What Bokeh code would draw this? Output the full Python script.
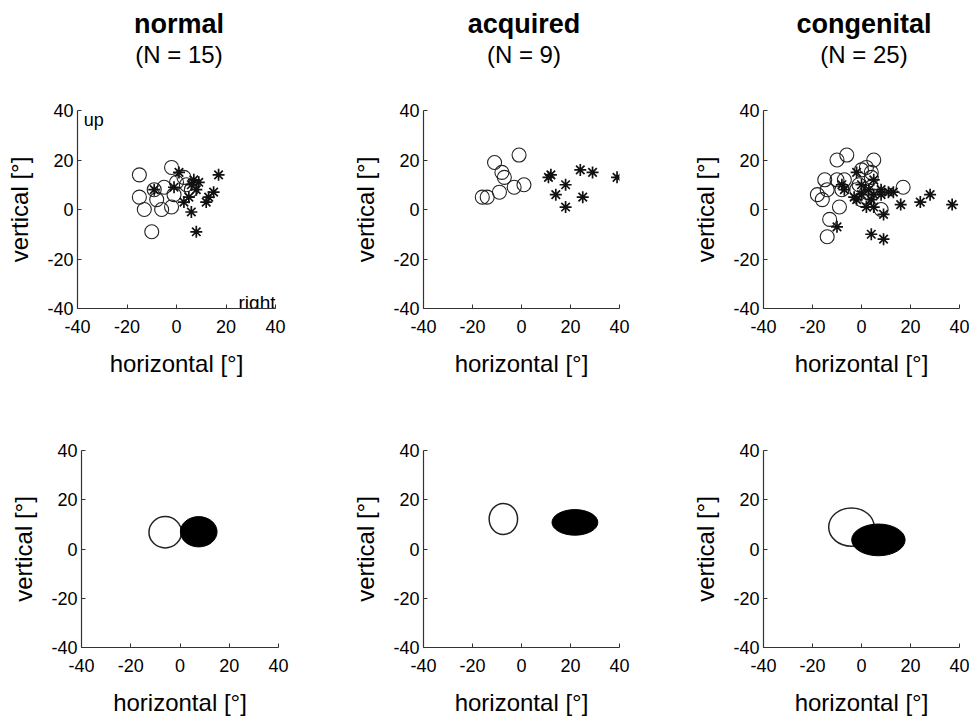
from bokeh.plotting import figure
from bokeh.layouts import column, row
from bokeh.models import Range1d, FixedTicker
from bokeh.embed import file_html
from bokeh.resources import INLINE
from bokeh.core.properties import value

FONT = "Liberation Sans"

# ---------------- data ----------------
panel_names = ["normal", "acquired", "congenital"]
panel_counts = ["(N = 15)", "(N = 9)", "(N = 25)"]
tick_values = [-40, -20, 0, 20, 40]
tick_labels = ["-40", "-20", "0", "20", "40"]

normal_circ_x = [-15, -2, -15, -13, -10, -9, -8, -6, -5, -1, -2, 0, 4, 6, 3]
normal_circ_y = [14, 17, 5, 0, -9, 8, 4, 0, 9, 6, 1, 11, 10, 8, 13]
normal_star_x = [1, 17, -9, -1, 7, 8, 5, 3, 6, 8, 15, 13, 12, 9, 6]
normal_star_y = [15, 14, 8, 9, 12, 8, 5, 3, -1, -9, 7, 5, 3, 11, 10]

acquired_circ_x = [-11, -1, -8, -7, -3, 1, -9, -14, -16]
acquired_circ_y = [19, 22, 15, 13, 9, 10, 7, 5, 5]
acquired_star_x = [12, 11, 24, 29, 39, 18, 14, 25, 18]
acquired_star_y = [14, 13, 16, 15, 13, 10, 6, 5, 1]

congenital_circ_x = [-18, -16, -15, -14, -13, -14, -10, -6, -10, -8, -7, -9, -2,
                     0, 2, 5, 4, 4, 17, 8, 0, 2, 4, -1, 2]
congenital_circ_y = [6, 4, 12, 8, -4, -11, 20, 22, 12, 8, 12, 1, 8,
                     16, 17, 20, 15, 13, 9, 0, 4, 7, 9, 10, 5]
congenital_star_x = [-10, 4, 9, 16, 24, 28, 37, 13, 11, 8, 9, 2, 5, -2, -3,
                     -2, 5, -8, -7, 0, 3, 5, 4, 8, 0]
congenital_star_y = [-7, -10, -12, 2, 3, 6, 2, 7, 7, 6, -2, 1, 1, 4, 5,
                     15, 12, 10, 8, 10, 8, 6, 4, 8, 6]

# ellipse summaries: centre x, centre y, width, height
open_cx = [-6.0, -7.4, -4.1]
open_cy = [6.8, 12.2, 8.9]
open_w = [13.2, 11.6, 18.6]
open_h = [12.7, 12.6, 15.6]
fill_cx = [7.6, 21.8, 6.9]
fill_cy = [7.0, 10.8, 3.7]
fill_w = [14.9, 18.7, 21.8]
fill_h = [12.3, 10.4, 12.9]

circ_x = [normal_circ_x, acquired_circ_x, congenital_circ_x]
circ_y = [normal_circ_y, acquired_circ_y, congenital_circ_y]
star_x = [normal_star_x, acquired_star_x, congenital_star_x]
star_y = [normal_star_y, acquired_star_y, congenital_star_y]

AX = "#333333"
TITLE_H = 90


def make_fig(fw, fh, left, right, top, bottom):
    p = figure(output_backend="svg", toolbar_location=None, title=None,
               frame_width=fw, frame_height=fh,
               x_range=Range1d(-40, 40), y_range=Range1d(-40, 40),
               min_border_left=left, min_border_right=right,
               min_border_top=top, min_border_bottom=bottom,
               background_fill_color="white", border_fill_color="white")
    p.outline_line_color = None
    p.xgrid.visible = False
    p.ygrid.visible = False
    p.xaxis.axis_label = "horizontal [°]"
    p.yaxis.axis_label = "vertical [°]"
    for ax in (p.xaxis[0], p.yaxis[0]):
        ax.ticker = FixedTicker(ticks=tick_values)
        ax.major_label_overrides = {v: s for v, s in zip(tick_values, tick_labels)}
        ax.major_tick_in = 4
        ax.major_tick_out = 0
        ax.minor_tick_line_color = None
        ax.axis_line_color = AX
        ax.major_tick_line_color = AX
        ax.axis_line_width = 1.2
        ax.major_label_text_font = FONT
        ax.major_label_text_font_size = "18px"
        ax.major_label_text_color = "black"
        ax.axis_label_text_font = FONT
        ax.axis_label_text_font_size = "24px"
        ax.axis_label_text_font_style = "normal"
        ax.axis_label_text_color = "black"
    p.xaxis[0].major_label_standoff = 11
    p.xaxis[0].axis_label_standoff = 14
    p.yaxis[0].major_label_standoff = 4
    p.yaxis[0].axis_label_standoff = 11
    return p


def make_title_fig(fw, left, right, name, count):
    t = figure(output_backend="svg", toolbar_location=None, title=None,
               x_axis_type=None, y_axis_type=None,
               frame_width=fw, frame_height=TITLE_H,
               x_range=Range1d(-40, 40), y_range=Range1d(0, TITLE_H),
               min_border_left=left, min_border_right=right,
               min_border_top=0, min_border_bottom=0,
               background_fill_color="white", border_fill_color="white")
    t.outline_line_color = None
    t.text(x=[1], y=[TITLE_H - 23], text=[name], text_font=value(FONT),
           text_font_size="27px", text_font_style="bold", text_align="center",
           text_baseline="alphabetic", text_color="black")
    t.text(x=[1], y=[TITLE_H - 54], text=[count], text_font=value(FONT),
           text_font_size="24px", text_font_style="normal", text_align="center",
           text_baseline="alphabetic", text_color="black")
    return t


# geometry per column: (frame width, left border, right border)
top_geo = [(198, 77, 71), (196, 77, 67), (196, 77, 10)]
bot_geo = [(197, 81, 68), (196, 77, 67), (196, 77, 10)]

title_figs = []
top_figs = []
for i in range(3):
    fw, l, r = top_geo[i]
    title_figs.append(make_title_fig(fw, l, r, panel_names[i], panel_counts[i]))
    p = make_fig(fw, 198, l, r, 110 - TITLE_H, 92)
    p.scatter(circ_x[i], circ_y[i], marker="circle", size=14,
              fill_color=None, line_color="#222222", line_width=1.1)
    p.scatter(star_x[i], star_y[i], marker="asterisk", size=12,
              line_color="#111111", line_width=1.7)
    if i == 0:
        p.text(x=[-37.5], y=[36.2], text=["up"], text_font=value(FONT),
               text_font_size="18px", text_baseline="alphabetic", text_align="left",
               text_color="black")
        p.text(x=[40], y=[-37.5], text=["right"], text_font=value(FONT),
               text_font_size="19px", text_baseline="alphabetic",
               text_align="right", text_color="black")
    top_figs.append(p)

bot_figs = []
for i in range(3):
    fw, l, r = bot_geo[i]
    p = make_fig(fw, 197, l, r, 50, 70)
    p.ellipse(x=[open_cx[i]], y=[open_cy[i]], width=[open_w[i]], height=[open_h[i]],
              fill_color="white", line_color="#222222", line_width=1.5)
    p.ellipse(x=[fill_cx[i]], y=[fill_cy[i]], width=[fill_w[i]], height=[fill_h[i]],
              fill_color="black", line_color="black", line_width=1)
    bot_figs.append(p)

layout = column(row(*title_figs), row(*top_figs), row(*bot_figs))
open("out.html", "w").write(file_html(layout, INLINE))
